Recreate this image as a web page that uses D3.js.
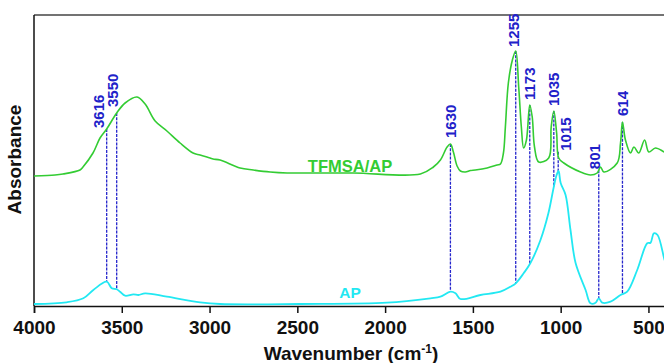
<!DOCTYPE html>
<html>
<head>
<meta charset="utf-8">
<script src="https://cdn.jsdelivr.net/npm/d3@7"></script>
<style>
  body { margin: 0; background: #fff; }
  svg { display: block; font-family: 'Liberation Sans', Arial, sans-serif; }
  .tick text { font-size: 19px; font-weight: bold; fill: #111; }
  .axis-label { font-size: 19px; font-weight: bold; fill: #111; }
  .series-label { font-weight: bold; }
  .peak-label { font-size: 15px; font-weight: bold; fill: #2121c9; }
</style>
</head>
<body>
<svg width="664" height="363"></svg>
<script>
// FTIR spectra, absorbance in arbitrary units
const tfmsaWavenumber = [4000, 3880, 3835, 3738, 3721, 3664, 3624, 3586, 3529, 3481, 3413, 3367, 3310, 3243, 3168,
  3094, 3054, 2997, 2980, 2940, 2826, 2751, 2655, 2558, 2484, 2181, 1799, 1725, 1685, 1647, 1628, 1611, 1590, 1571,
  1543, 1514, 1486, 1419, 1362, 1343, 1326, 1315, 1298, 1275, 1256, 1239, 1224, 1211, 1195, 1176, 1162, 1149, 1125,
  1068, 1054, 1039, 1023, 1011, 982, 887, 830, 792, 773, 754, 678, 659, 648, 631, 602, 583, 555, 522, 498, 460, 408, 400];
const tfmsaAbsorbance = [1.30, 1.31, 1.32, 1.36, 1.39, 1.53, 1.68, 1.77, 1.93, 2.03, 2.09, 2.02, 1.85, 1.75, 1.63,
  1.53, 1.51, 1.48, 1.47, 1.46, 1.38, 1.36, 1.34, 1.33, 1.33, 1.33, 1.32, 1.39, 1.46, 1.59, 1.62, 1.54, 1.40, 1.35,
  1.34, 1.355, 1.36, 1.38, 1.41, 1.42, 1.53, 1.79, 2.23, 2.46, 2.55, 2.19, 1.79, 1.58, 1.66, 2.01, 1.89, 1.59, 1.44,
  1.48, 1.79, 1.95, 1.73, 1.48, 1.43, 1.34, 1.31, 1.33, 1.39, 1.34, 1.43, 1.63, 1.84, 1.66, 1.53, 1.59, 1.53, 1.66, 1.54, 1.58, 1.54, 1.54];

const apWavenumber = [4000, 3814, 3719, 3662, 3586, 3557, 3529, 3510, 3481, 3434, 3405, 3367, 3243, 3054, 2940,
  2484, 1989, 1742, 1685, 1628, 1599, 1571, 1457, 1343, 1286, 1256, 1211, 1173, 1115, 1070, 1039, 1023, 1012, 1000,
  972, 944, 915, 858, 830, 801, 783, 763, 716, 659, 621, 564, 507, 488, 469, 448, 408, 400];
const apAbsorbance = [0.02, 0.037, 0.077, 0.16, 0.243, 0.177, 0.167, 0.143, 0.103, 0.117, 0.11, 0.127, 0.093, 0.037, 0.02,
  0.02, 0.033, 0.077, 0.093, 0.143, 0.127, 0.07, 0.11, 0.143, 0.193, 0.227, 0.327, 0.427, 0.66, 0.927, 1.193, 1.31, 1.35, 1.23,
  1.11, 0.76, 0.43, 0.16, 0.027, 0.033, 0.077, 0.033, 0.043, 0.11, 0.143, 0.36, 0.627, 0.633, 0.727, 0.71, 0.46, 0.43];

// peak markers: printed label and where the marker sits in the figure
const peakLabels = ['3616', '3550', '1630', '1255', '1173', '1035', '1015', '801', '614'];
const peakWavenumber = [3586, 3529, 1628, 1256, 1176, 1039, 1014, 783, 648];

const xTicks = [4000, 3500, 3000, 2500, 2000, 1500, 1000, 500];

(function (d3) {
  'use strict';

  const svg = d3.select('svg');
  const width = +svg.attr('width');
  const height = +svg.attr('height');

  const green = '#33cc33';
  const cyan = '#22e8f2';
  const markBlue = '#2626cc';

  const tfmsa = tfmsaWavenumber.map((w, i) => ({ w, a: tfmsaAbsorbance[i] }));
  const ap = apWavenumber.map((w, i) => ({ w, a: apAbsorbance[i] }));

  const margin = { top: 15, right: -2, bottom: 57, left: 34 };
  const innerWidth = width - margin.left - margin.right;
  const innerHeight = height - margin.top - margin.bottom;

  const xScale = d3.scaleLinear().domain([4000, 400]).range([0, innerWidth]);
  const yScale = d3.scaleLinear().domain([0, 2.91]).range([innerHeight, 0]);

  // linear interpolation on a spectrum (wavenumbers descending)
  const valueAt = (data, w) => {
    const i = d3.bisector(d => -d.w).left(data, -w);
    if (i <= 0) return data[0].a;
    if (i >= data.length) return data[data.length - 1].a;
    const p = data[i - 1], q = data[i];
    const t = (w - p.w) / (q.w - p.w);
    return p.a + t * (q.a - p.a);
  };

  const g = svg.append('g')
    .attr('transform', `translate(${margin.left},${margin.top})`);

  // frame: top border + left axis line
  g.append('line')
    .attr('x1', 0).attr('x2', innerWidth)
    .attr('y1', 0).attr('y2', 0)
    .attr('stroke', '#444').attr('stroke-width', 1.5);
  g.append('line')
    .attr('x1', 0).attr('x2', 0)
    .attr('y1', 0).attr('y2', innerHeight)
    .attr('stroke', '#111').attr('stroke-width', 1.5);

  const xAxis = d3.axisBottom(xScale)
    .tickValues(xTicks)
    .tickFormat(d3.format('d'))
    .tickSize(7)
    .tickPadding(8);

  const xAxisG = g.append('g').call(xAxis)
    .attr('transform', `translate(0,${innerHeight})`);
  xAxisG.select('.domain').attr('stroke', '#111').attr('stroke-width', 1.5);
  xAxisG.selectAll('.tick line').attr('stroke', '#111').attr('stroke-width', 1.5);
  xAxisG.selectAll('.tick text').attr('dy', '0.71em');

  const xLabel = g.append('text')
    .attr('class', 'axis-label')
    .attr('x', innerWidth / 2 + 1)
    .attr('y', innerHeight + 54)
    .attr('text-anchor', 'middle')
    .text('Wavenumber (cm');
  xLabel.append('tspan').attr('dy', -7).style('font-size', '12px').text('-1');
  xLabel.append('tspan').attr('dy', 7).text(')');

  g.append('text')
    .attr('class', 'axis-label')
    .attr('transform', 'rotate(-90)')
    .attr('x', -innerHeight / 2 + 1)
    .attr('y', -13)
    .attr('text-anchor', 'middle')
    .text('Absorbance');

  // dashed peak markers, from the TFMSA/AP trace down to the AP trace
  const labelNudge = {
    '3616': { dx: -8, dy: 1 }, '3550': { dx: -4, dy: -4 }, '1630': { dx: 0, dy: -4 },
    '1255': { dx: -2, dy: -2 }, '1173': { dx: 0, dy: -3 }, '1035': { dx: 0, dy: -3 },
    '1015': { dx: 7, dy: 1 }, '801': { dx: -4, dy: 1 }, '614': { dx: 0, dy: -4 }
  };

  const peaks = peakLabels.map((label, i) => {
    const w = peakWavenumber[i];
    return { label, w, top: valueAt(tfmsa, w), bottom: valueAt(ap, w) };
  });

  g.selectAll('.peak-line').data(peaks).enter().append('line')
    .attr('class', 'peak-line')
    .attr('x1', d => xScale(d.w)).attr('x2', d => xScale(d.w))
    .attr('y1', d => yScale(d.top)).attr('y2', d => yScale(d.bottom))
    .attr('stroke', markBlue)
    .attr('stroke-width', 1.3)
    .attr('stroke-dasharray', '3,1.2');

  const lineGenerator = d3.line()
    .x(d => xScale(d.w))
    .y(d => yScale(d.a))
    .curve(d3.curveCatmullRom.alpha(0.5));

  g.append('path')
    .attr('d', lineGenerator(ap))
    .attr('fill', 'none')
    .attr('stroke', cyan)
    .attr('stroke-width', 1.8);

  g.append('path')
    .attr('d', lineGenerator(tfmsa))
    .attr('fill', 'none')
    .attr('stroke', green)
    .attr('stroke-width', 1.6);

  g.selectAll('.peak-label').data(peaks).enter().append('text')
    .attr('class', 'peak-label')
    .attr('transform', d => {
      const n = labelNudge[d.label];
      return `translate(${xScale(d.w) + n.dx},${yScale(d.top) - 2 + n.dy}) rotate(-90)`;
    })
    .attr('dy', '0.36em')
    .text(d => d.label);

  g.append('text')
    .attr('class', 'series-label')
    .attr('x', 350 - margin.left)
    .attr('y', 172 - margin.top)
    .attr('text-anchor', 'middle')
    .style('font-size', '16.5px')
    .attr('fill', green)
    .text('TFMSA/AP');

  g.append('text')
    .attr('class', 'series-label')
    .attr('x', 350 - margin.left)
    .attr('y', 298 - margin.top)
    .attr('text-anchor', 'middle')
    .style('font-size', '15.5px')
    .attr('fill', cyan)
    .text('AP');

}(d3));
</script>
</body>
</html>
